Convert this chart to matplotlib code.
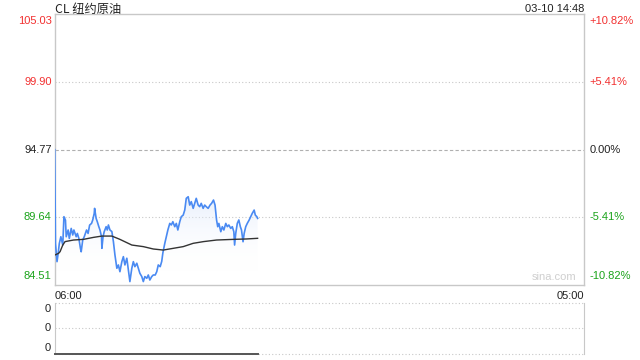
import matplotlib
matplotlib.use("Agg")
import matplotlib.pyplot as plt
import matplotlib.transforms as mtransforms
import numpy as np

plt.rcParams['font.family'] = ['Noto Sans CJK SC', 'DejaVu Sans']

# ---- data ----
title = "CL 纽约原油"
stamp = "03-10 14:48"
prev_close = 94.77
price_ticks = [105.03, 99.90, 94.77, 89.64, 84.51]
price_labels = ["105.03", "99.90", "94.77", "89.64", "84.51"]
pct_labels = ["+10.82%", "+5.41%", "0.00%", "-5.41%", "-10.82%"]
time_labels = ["06:00", "05:00"]
session_minutes = 1380  # 06:00 -> 05:00

# minutes after 06:00 and last price
times = [0, 2, 6, 9, 12, 16, 21, 24, 28, 30, 35, 38, 43, 47, 50, 56, 59, 63,
         67, 69, 73, 77, 83, 87, 91, 96, 99, 103, 104, 108, 111, 115, 118, 122,
         123, 126, 129, 134, 137, 140, 144, 149, 153, 157, 162, 166, 170, 175,
         179, 183, 188, 192, 196, 201, 205, 209, 214, 218, 222, 227, 231, 235,
         240, 244, 248, 253, 257, 262, 266, 270, 275, 279, 282, 287, 291, 295,
         300, 304, 308, 313, 317, 321, 326, 330, 335, 339, 343, 348, 352, 356,
         361, 365, 369, 374, 378, 382, 387, 391, 395, 400, 405, 409, 414, 418,
         422, 425, 428, 433, 437, 441, 446, 450, 454, 459, 463, 467, 469, 472,
         476, 480, 484, 487, 491, 494, 498, 502, 507, 511, 515, 520, 523, 527,
         529]
prices = [94.77, 87.66, 86.28, 86.91, 87.66, 88.17, 87.54, 89.69, 89.43, 88.17,
          88.68, 88.04, 88.80, 88.30, 88.68, 88.17, 88.42, 88.04, 87.29, 87.03,
          87.92, 88.17, 88.68, 88.42, 89.05, 89.18, 89.43, 89.94, 90.32, 89.56,
          89.31, 88.93, 88.68, 88.17, 87.29, 88.17, 88.55, 88.93, 88.68, 89.06,
          88.68, 88.56, 87.80, 86.79, 85.78, 86.03, 85.52, 86.28, 86.66, 86.03,
          86.54, 85.65, 84.77, 85.78, 86.28, 85.90, 86.16, 85.78, 85.40, 85.15,
          84.77, 85.15, 85.02, 85.27, 84.89, 85.15, 85.27, 85.27, 85.52, 86.03,
          85.90, 86.30, 86.95, 87.67, 88.17, 88.68, 89.18, 89.06, 89.31, 88.93,
          89.18, 88.68, 89.31, 89.69, 89.81, 90.19, 91.08, 91.20, 90.57, 90.83,
          90.32, 90.70, 91.08, 90.57, 90.45, 90.70, 90.32, 90.57, 90.45, 90.32,
          90.57, 90.70, 90.95, 90.57, 89.44, 88.93, 89.18, 88.55, 88.93, 88.68,
          89.18, 88.93, 89.06, 88.80, 88.93, 88.55, 87.54, 88.43, 89.18, 89.44,
          88.93, 88.68, 87.79, 88.43, 88.93, 89.18, 89.44, 89.69, 89.94, 90.19,
          89.81, 89.69, 89.56]

avg_times = [0, 10, 14, 21, 27, 49, 75, 101, 123, 149, 170, 201, 231, 257, 283,
             309, 335, 361, 388, 422, 466, 500, 529]
avg_prices = [86.78, 86.91, 87.04, 87.54, 87.80, 87.92, 87.97, 88.12, 88.22, 88.22,
              87.97, 87.54, 87.42, 87.24, 87.16, 87.29, 87.42, 87.67, 87.80, 87.92,
              87.97, 88.00, 88.05]

vol_times = [0, 529]
volumes = [0, 0]
vol_ticks = [0, 0.5, 1]
vol_labels = ["0", "0", "0"]

RED = "#f23030"
GREEN = "#1aa31a"
BLACK = "#222222"
BLUE = "#4a8af2"
GRID = "#c8c8c8"
label_colors = [RED, RED, BLACK, GREEN, GREEN]
LAT = ["Liberation Sans", "DejaVu Sans"]

fig = plt.figure(figsize=(6.4, 3.6), dpi=100)
ax = fig.add_axes([0.0855, 0.2083, 0.827, 0.752])
axv = fig.add_axes([0.0855, 0.0167, 0.827, 0.1417])

ymin, ymax = price_ticks[-1], price_ticks[0]
ax.set_xlim(0, session_minutes)
ax.set_ylim(ymin, ymax)
ax.set_xticks([])
ax.set_yticks([])
for s in ax.spines.values():
    s.set_color(GRID)
    s.set_linewidth(1)

# grid lines
for v in price_ticks[1:-1]:
    if v == prev_close:
        ax.axhline(v, color="#b0b0b0", lw=0.8, ls=(0, (3, 2)), zorder=1)
    else:
        ax.axhline(v, color=GRID, lw=0.8, ls=(0, (1, 2)), zorder=1)

# gradient fill under price line
poly = ax.fill_between(times, prices, ymin, color="none", lw=0)
grad = np.linspace(0, 1, 256).reshape(-1, 1)
cmap = matplotlib.colors.LinearSegmentedColormap.from_list(
    "g", [(1, 1, 1, 0), (0.84, 0.89, 0.98, 0.55)])
im = ax.imshow(grad, aspect="auto", cmap=cmap, origin="lower",
               extent=[0, max(times), ymin + 1.0, 91.3], zorder=1)
im.set_clip_path(poly.get_paths()[0], transform=ax.transData)

ax.plot(times, prices, color=BLUE, lw=1.2, zorder=3, solid_joinstyle="round")
ax.plot(avg_times, avg_prices, color="#333333", lw=1.0, zorder=4)

# left price labels / right percent labels
trans_l = mtransforms.blended_transform_factory(ax.transAxes, ax.transData)
for i, (v, lab, pl, c) in enumerate(zip(price_ticks, price_labels, pct_labels, label_colors)):
    va = "center"
    off = 0
    if i == 0:
        va, off = "top", -1
    elif i == len(price_ticks) - 1:
        va, off = "bottom", 3
    tr = trans_l + mtransforms.ScaledTranslation(0, off / 72, fig.dpi_scale_trans)
    ax.text(-0.006, v, lab, transform=tr, ha="right", va=va, color=c, fontsize=8,
            family=LAT)
    ax.text(1.01, v, pl, transform=tr, ha="left", va=va, color=c, fontsize=8,
            family=LAT)

# header texts (baseline at ~12 px from the top)
base_y = 1 - 12.5 / 360
fig.text(0.0855, base_y, title, ha="left", va="baseline", fontsize=8.8, color=BLACK)
fig.text(0.9125, base_y, stamp, ha="right", va="baseline", fontsize=8, color=BLACK,
         family=LAT)

ax.text(0.0, -0.022, time_labels[0], transform=ax.transAxes, ha="left", va="top",
        fontsize=8, color=BLACK, family=LAT)
ax.text(1.0, -0.022, time_labels[1], transform=ax.transAxes, ha="right", va="top",
        fontsize=8, color=BLACK, family=LAT)
ax.text(0.985, 0.012, "sina.com", transform=ax.transAxes, ha="right", va="bottom",
        fontsize=8, color="#cfcfcf", family=LAT)

# volume pane
axv.set_xlim(0, session_minutes)
axv.set_ylim(vol_ticks[0], vol_ticks[-1])
axv.set_xticks([])
axv.set_yticks([])
for k in ["top", "bottom"]:
    axv.spines[k].set_visible(False)
for k in ["left", "right"]:
    axv.spines[k].set_color(GRID)
for v in vol_ticks:
    axv.axhline(v, color=GRID, lw=0.8, ls=(0, (1, 2)), clip_on=False)
axv.plot(vol_times, volumes, color="#555555", lw=1.4, clip_on=False, zorder=3)
vol_offs = [-4, 0, 4]
for v, lab, off in zip(vol_ticks[::-1], vol_labels, vol_offs):
    tr = mtransforms.blended_transform_factory(axv.transAxes, axv.transData) + \
        mtransforms.ScaledTranslation(0, off / 72, fig.dpi_scale_trans)
    axv.text(-0.007, v, lab, transform=tr, ha="right", va="center", fontsize=8,
             color=BLACK, family=LAT)

fig.savefig("out.png", dpi=100)
